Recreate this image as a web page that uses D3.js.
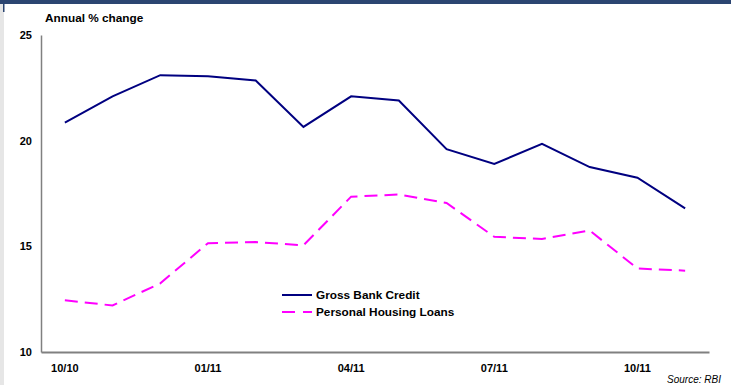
<!DOCTYPE html>
<html>
<head>
  <title>Gross Bank Credit vs Personal Housing Loans</title>
  <style>
    body { margin: 0; background: #fff; font-family: "Liberation Sans", Arial, sans-serif; }
    svg { display: block; }
  </style>
  <script src="https://d3js.org/d3.v7.min.js"></script>
</head>
<body>
  <div id="chart"></div>
  <script>
    // months Oct 2010 .. Nov 2011
    const months = ["10/10", "11/10", "12/10", "01/11", "02/11", "03/11", "04/11",
                    "05/11", "06/11", "07/11", "08/11", "09/11", "10/11", "11/11"];
    const tickLabels = ["10/10", "01/11", "04/11", "07/11", "10/11"];
    const yTicks = [10, 15, 20, 25];

    const grossBankCredit = [20.85, 22.1, 23.1, 23.05, 22.85, 20.65, 22.1,
                             21.9, 19.6, 18.9, 19.85, 18.75, 18.25, 16.8];
    const housingLoans = [12.45, 12.2, 13.25, 15.15, 15.2, 15.05, 17.35,
                          17.45, 17.05, 15.45, 15.35, 15.75, 13.95, 13.85];

    const W = 731, H = 385;
    const margin = { top: 35, right: 22, bottom: 33, left: 41 };

    const svg = d3.select("#chart").append("svg")
      .attr("width", W).attr("height", H);

    // frame bits from the original slide
    svg.append("rect").attr("x", 0).attr("y", 0).attr("width", 4).attr("height", H)
      .attr("fill", "#e6e6e6");
    svg.append("rect").attr("x", 0).attr("y", 0).attr("width", W).attr("height", 4)
      .attr("fill", "#2b4571");
    svg.append("rect").attr("x", 3).attr("y", 4).attr("width", 1.5).attr("height", 8)
      .attr("fill", "#2b4571");

    const x = d3.scaleBand().domain(months)
      .range([margin.left, W - margin.right]);
    const y = d3.scaleLinear().domain([10, 25])
      .range([H - margin.bottom, margin.top]);

    const cx = d => x(d) + x.bandwidth() / 2;

    // y axis
    const yAxis = svg.append("g")
      .attr("transform", `translate(${margin.left},0)`)
      .call(d3.axisLeft(y).tickValues(yTicks).tickSize(0).tickPadding(9));
    yAxis.select(".domain").attr("stroke", "#808080").attr("stroke-width", 1.5);
    yAxis.selectAll("text")
      .attr("font-family", "Liberation Sans, Arial, sans-serif")
      .attr("font-size", 11).attr("font-weight", "bold").attr("fill", "#000");

    // x axis
    const xAxis = svg.append("g")
      .attr("transform", `translate(0,${H - margin.bottom})`)
      .call(d3.axisBottom(x).tickValues(tickLabels).tickSize(0).tickPadding(12));
    xAxis.select(".domain").attr("stroke", "#808080").attr("stroke-width", 2);
    xAxis.selectAll("text")
      .attr("font-family", "Liberation Sans, Arial, sans-serif")
      .attr("font-size", 11).attr("font-weight", "bold").attr("fill", "#000");

    svg.append("text")
      .attr("x", 45).attr("y", 22)
      .attr("font-size", 11.8).attr("font-weight", "bold")
      .text("Annual % change");

    const line = d3.line()
      .x((d, i) => cx(months[i]))
      .y(d => y(d));

    svg.append("path")
      .datum(grossBankCredit)
      .attr("fill", "none")
      .attr("stroke", "#000080")
      .attr("stroke-width", 2)
      .attr("d", line);

    svg.append("path")
      .datum(housingLoans)
      .attr("fill", "none")
      .attr("stroke", "#ff00ff")
      .attr("stroke-width", 2)
      .attr("stroke-dasharray", "13,7")
      .attr("d", line);

    // legend
    const legend = [
      { name: "Gross Bank Credit", color: "#000080", dash: null },
      { name: "Personal Housing Loans", color: "#ff00ff", dash: "13,8" }
    ];
    const lg = svg.append("g").attr("transform", "translate(282,295)");
    legend.forEach((d, i) => {
      lg.append("line")
        .attr("x1", 0).attr("x2", 30)
        .attr("y1", i * 17).attr("y2", i * 17)
        .attr("stroke", d.color).attr("stroke-width", 2)
        .attr("stroke-dasharray", d.dash);
      lg.append("text")
        .attr("x", 34).attr("y", i * 17 + 4)
        .attr("font-size", 11.8).attr("font-weight", "bold")
        .text(d.name);
    });

    svg.append("text")
      .attr("x", 721).attr("y", 383)
      .attr("text-anchor", "end")
      .attr("font-size", 10).attr("font-style", "italic")
      .text("Source: RBI");
  </script>
</body>
</html>
